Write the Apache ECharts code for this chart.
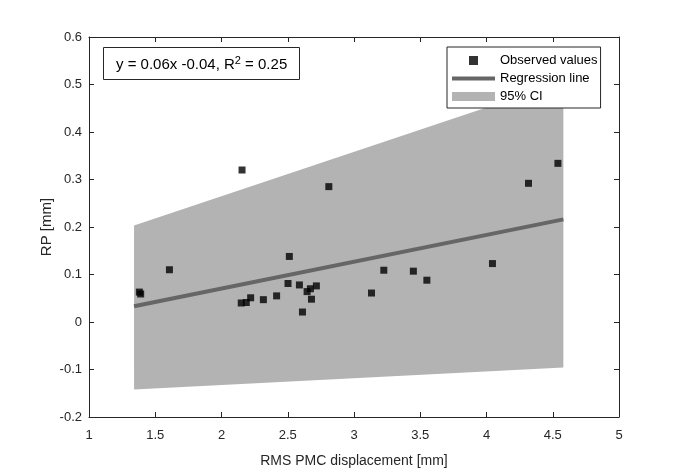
<!DOCTYPE html>
<html>
<head>
<meta charset="utf-8">
<script src="https://cdn.jsdelivr.net/npm/echarts@6/dist/echarts.min.js"></script>
<style>
html,body{margin:0;padding:0;background:#fff;}
#chart{width:685px;height:473px;}
</style>
</head>
<body>
<div id="chart"></div>
<script>
// Observed values (RMS PMC displacement [mm], RP [mm])
const obsX = [1.38, 1.39, 1.607, 2.155, 2.810, 2.512, 2.502, 2.588, 2.716, 2.671, 2.646, 2.679, 2.611, 2.416, 2.316, 2.220, 2.187, 2.149, 4.539, 4.317, 4.045, 3.225, 3.448, 3.550, 3.132];
const obsY = [0.063, 0.059, 0.110, 0.320, 0.285, 0.138, 0.081, 0.078, 0.076, 0.070, 0.064, 0.048, 0.021, 0.055, 0.047, 0.051, 0.041, 0.040, 0.334, 0.292, 0.123, 0.109, 0.107, 0.088, 0.061];
// Regression line end points
const regX = [1.34, 4.58];
const regY = [0.033, 0.216];
// 95% confidence band
const ciX = [1.34, 4.58];
const ciLower = [-0.142, -0.096];
const ciUpper = [0.203, 0.506];
// Axes
const xMin = 1, xMax = 5, xStep = 0.5;
const yMin = -0.2, yMax = 0.6, yStep = 0.1;
const fitText = ['y = 0.06x -0.04, R', '2', ' = 0.25'];

const FONT = 'Liberation Sans';
const AXC = '#262626';

const chart = echarts.init(document.getElementById('chart'), null, {renderer: 'canvas'});

const axisCommon = {
  axisLine: {show: true, onZero: false, lineStyle: {color: AXC, width: 1}},
  axisTick: {show: true, inside: true, length: 5, lineStyle: {color: AXC, width: 1}},
  splitLine: {show: false},
  axisLabel: {color: AXC, fontFamily: FONT, fontSize: 13}
};

const option = {
  backgroundColor: '#fff',
  animation: false,
  textStyle: {fontFamily: FONT},
  title: {
    text: '{a|' + fitText[0] + '}{s|' + fitText[1] + '}{a|' + fitText[2] + '}',
    left: 103, top: 47,
    padding: [8, 13, 8, 13],
    borderColor: AXC, borderWidth: 1,
    backgroundColor: '#fff',
    textStyle: {
      fontFamily: FONT, fontSize: 15, color: '#000', fontWeight: 'normal',
      rich: {
        a: {fontFamily: FONT, fontSize: 15, color: '#000', lineHeight: 19},
        s: {fontFamily: FONT, fontSize: 11, color: '#000', verticalAlign: 'top', lineHeight: 13}
      }
    }
  },
  legend: {
    orient: 'vertical',
    left: 447, top: 47,
    padding: [7, 3, 5, 5],
    itemWidth: 43, itemHeight: 9,
    itemGap: 5,
    borderColor: AXC, borderWidth: 1,
    backgroundColor: '#fff',
    textStyle: {fontFamily: FONT, fontSize: 13, color: '#000'},
    data: [
      {name: 'Observed values', icon: 'path://M0,0h8v8h-8z'},
      {name: 'Regression line', icon: 'path://M0,0h43v4h-43z'},
      {name: '95% CI', icon: 'rect'}
    ]
  },
  grid: {left: 89, right: 66, top: 37, bottom: 55, containLabel: false},
  xAxis: [
    Object.assign({}, axisCommon, {
      type: 'value', position: 'bottom', min: xMin, max: xMax, interval: xStep,
      name: 'RMS PMC displacement [mm]', nameLocation: 'middle', nameGap: 37,
      nameTextStyle: {color: AXC, fontFamily: FONT, fontSize: 14},
      axisLabel: {color: AXC, fontFamily: FONT, fontSize: 13, margin: 12}
    }),
    Object.assign({}, axisCommon, {
      type: 'value', position: 'top', min: xMin, max: xMax, interval: xStep,
      axisLabel: {show: false}
    })
  ],
  yAxis: [
    Object.assign({}, axisCommon, {
      type: 'value', position: 'left', min: yMin, max: yMax, interval: yStep,
      name: 'RP [mm]', nameLocation: 'middle', nameGap: 35, nameMoveOverlap: false,
      nameTextStyle: {color: AXC, fontFamily: FONT, fontSize: 15},
      axisLabel: {color: AXC, fontFamily: FONT, fontSize: 13, margin: 7}
    }),
    Object.assign({}, axisCommon, {
      type: 'value', position: 'right', min: yMin, max: yMax, interval: yStep,
      axisLabel: {show: false}
    })
  ],
  series: [
    {
      name: '95% CI',
      type: 'custom',
      xAxisIndex: 0, yAxisIndex: 0,
      data: ciX.map((x, i) => [x, ciLower[i], ciUpper[i]]),
      encode: {x: 0, y: [1, 2]},
      itemStyle: {color: '#b3b3b3'},
      silent: true,
      z: 1,
      renderItem: function (params, api) {
        if (params.dataIndex !== 0) return {type: 'group', children: []};
        const up = ciX.map((x, i) => api.coord([x, ciUpper[i]]));
        const lo = ciX.map((x, i) => api.coord([x, ciLower[i]])).reverse();
        return {type: 'polygon', shape: {points: up.concat(lo)}, style: {fill: '#b3b3b3'}};
      }
    },
    {
      name: 'Regression line',
      type: 'line',
      xAxisIndex: 0, yAxisIndex: 0,
      data: regX.map((x, i) => [x, regY[i]]),
      showSymbol: false, symbol: 'none',
      lineStyle: {color: '#666666', width: 4},
      itemStyle: {color: '#666666'},
      z: 2
    },
    {
      name: 'Observed values',
      type: 'scatter',
      xAxisIndex: 0, yAxisIndex: 0,
      data: obsX.map((x, i) => [x, obsY[i]]),
      symbol: 'rect', symbolSize: 7,
      itemStyle: {color: '#000'},
      z: 3
    }
  ]
};
chart.setOption(option);
</script>
</body>
</html>
